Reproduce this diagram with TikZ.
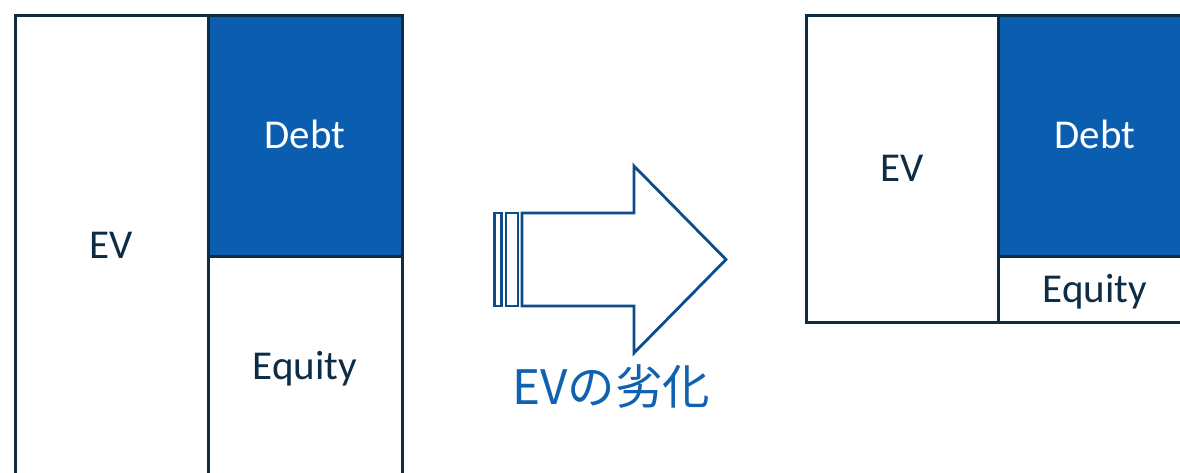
\documentclass[tikz,border=0pt]{standalone}
\usepackage{fontspec}
\setmainfont{Carlito}
\newfontfamily\jpfont{Noto Sans CJK JP}
\usepackage{xcolor}
\usepackage{tikz}
\usetikzlibrary{positioning}
\definecolor{SheetNavy}{HTML}{0D2C45}
\definecolor{SheetBlue}{HTML}{0B5EAF}
\definecolor{ArrowBlue}{HTML}{0F4C8A}
\definecolor{ArrowText}{HTML}{1061B0}

\begin{document}
\begin{tikzpicture}[x=1pt,y=-1pt,
  part/.style={draw=SheetNavy,line width=3pt,fill=white,inner sep=0pt,outer sep=0pt,text=SheetNavy,font=\fontsize{41}{49}\selectfont,text height=26pt,text depth=0pt},
  debt/.style={part,fill=SheetBlue,text=white},
  shiftline/.style={draw=ArrowBlue,line width=2.8pt,line join=miter}
]
\clip (0,0) rectangle (1180,472);
\fill[white] (0,0) rectangle (1180,472);
% before
\node[part,minimum width=193pt,minimum height=461pt] (evA) at (111.5,245.5) {EV};
\node[debt,minimum width=194pt,minimum height=241pt] (debtA) at (305,135.5) {Debt};
\node[part,minimum width=194pt,minimum height=220pt] (eqA) at (305,366) {Equity};
% after
\node[part,minimum width=192pt,minimum height=307pt] (evB) at (902,168.5) {EV};
\node[debt,minimum width=194pt,minimum height=241pt] (debtB) at (1095,135.5) {Debt};
\node[part,minimum width=194pt,minimum height=66pt] (eqB) at (1095,289) {Equity};
% striped block arrow
\draw[shiftline] (494.5,213) rectangle (501.5,306);
\draw[shiftline] (506,213) rectangle (518,306);
\draw[shiftline] (522,213) -- (634,213) -- (634,166) -- (726,259.5) -- (634,353) -- (634,306) -- (522,306) -- cycle;
\node[anchor=base,text=ArrowText,font=\jpfont\fontsize{47.5}{56}\selectfont,inner sep=0pt] (drop) at (611.5,404) {EVの劣化};
\end{tikzpicture}
\end{document}
